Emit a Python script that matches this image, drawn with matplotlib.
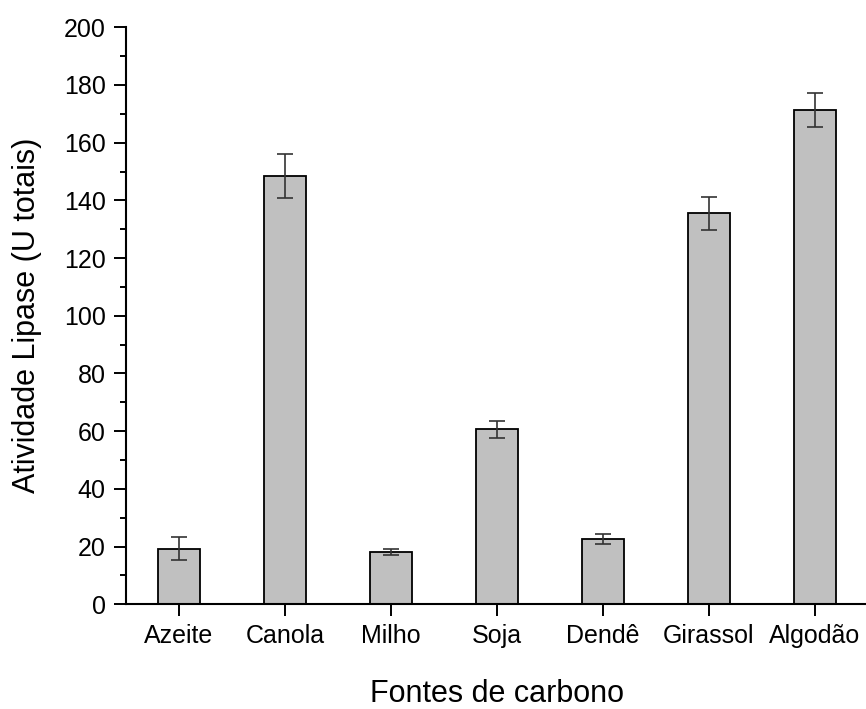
import matplotlib
matplotlib.use("Agg")
import matplotlib.pyplot as plt
from matplotlib.ticker import MultipleLocator

categories = ["Azeite", "Canola", "Milho", "Soja", "Dendê", "Girassol", "Algodão"]
values = [19.2, 148.5, 18.2, 60.7, 22.7, 135.5, 171.3]
errors = [4.0, 7.5, 1.1, 3.0, 1.8, 5.6, 6.0]

plt.rcParams['font.family'] = ['Liberation Sans', 'DejaVu Sans']

fig = plt.figure(figsize=(8.66, 7.09), dpi=100)
ax = fig.add_axes([0.1455, 0.1477, 0.8568, 0.8138])

x = list(range(1, len(categories) + 1))
ax.bar(x, values, width=0.4, color="#c0c0c0", edgecolor="black", linewidth=1.3, zorder=2)
ax.errorbar(x, values, yerr=errors, fmt="none", ecolor="#333333", elinewidth=1.2,
            capsize=5.5, capthick=1.2, zorder=3)

ax.set_xlim(0.5, 7.5)
ax.set_ylim(0, 200)
ax.set_xticks(x)
ax.set_xticklabels(categories)
ax.yaxis.set_major_locator(MultipleLocator(20))
ax.yaxis.set_minor_locator(MultipleLocator(10))

for s in ["top", "right"]:
    ax.spines[s].set_visible(False)
for s in ["left", "bottom"]:
    ax.spines[s].set_linewidth(1.5)

ax.tick_params(axis="both", which="major", direction="out", length=8.5, width=1.4,
               labelsize=18, pad=6)
ax.tick_params(axis="y", which="minor", direction="out", length=4.5, width=1.4)
ax.tick_params(axis="x", which="minor", bottom=False)

ax.set_xlabel("Fontes de carbono", fontsize=22, labelpad=22)
ax.set_ylabel("Atividade Lipase (U totais)", fontsize=22, labelpad=16)

fig.savefig("out.png", dpi=100)
